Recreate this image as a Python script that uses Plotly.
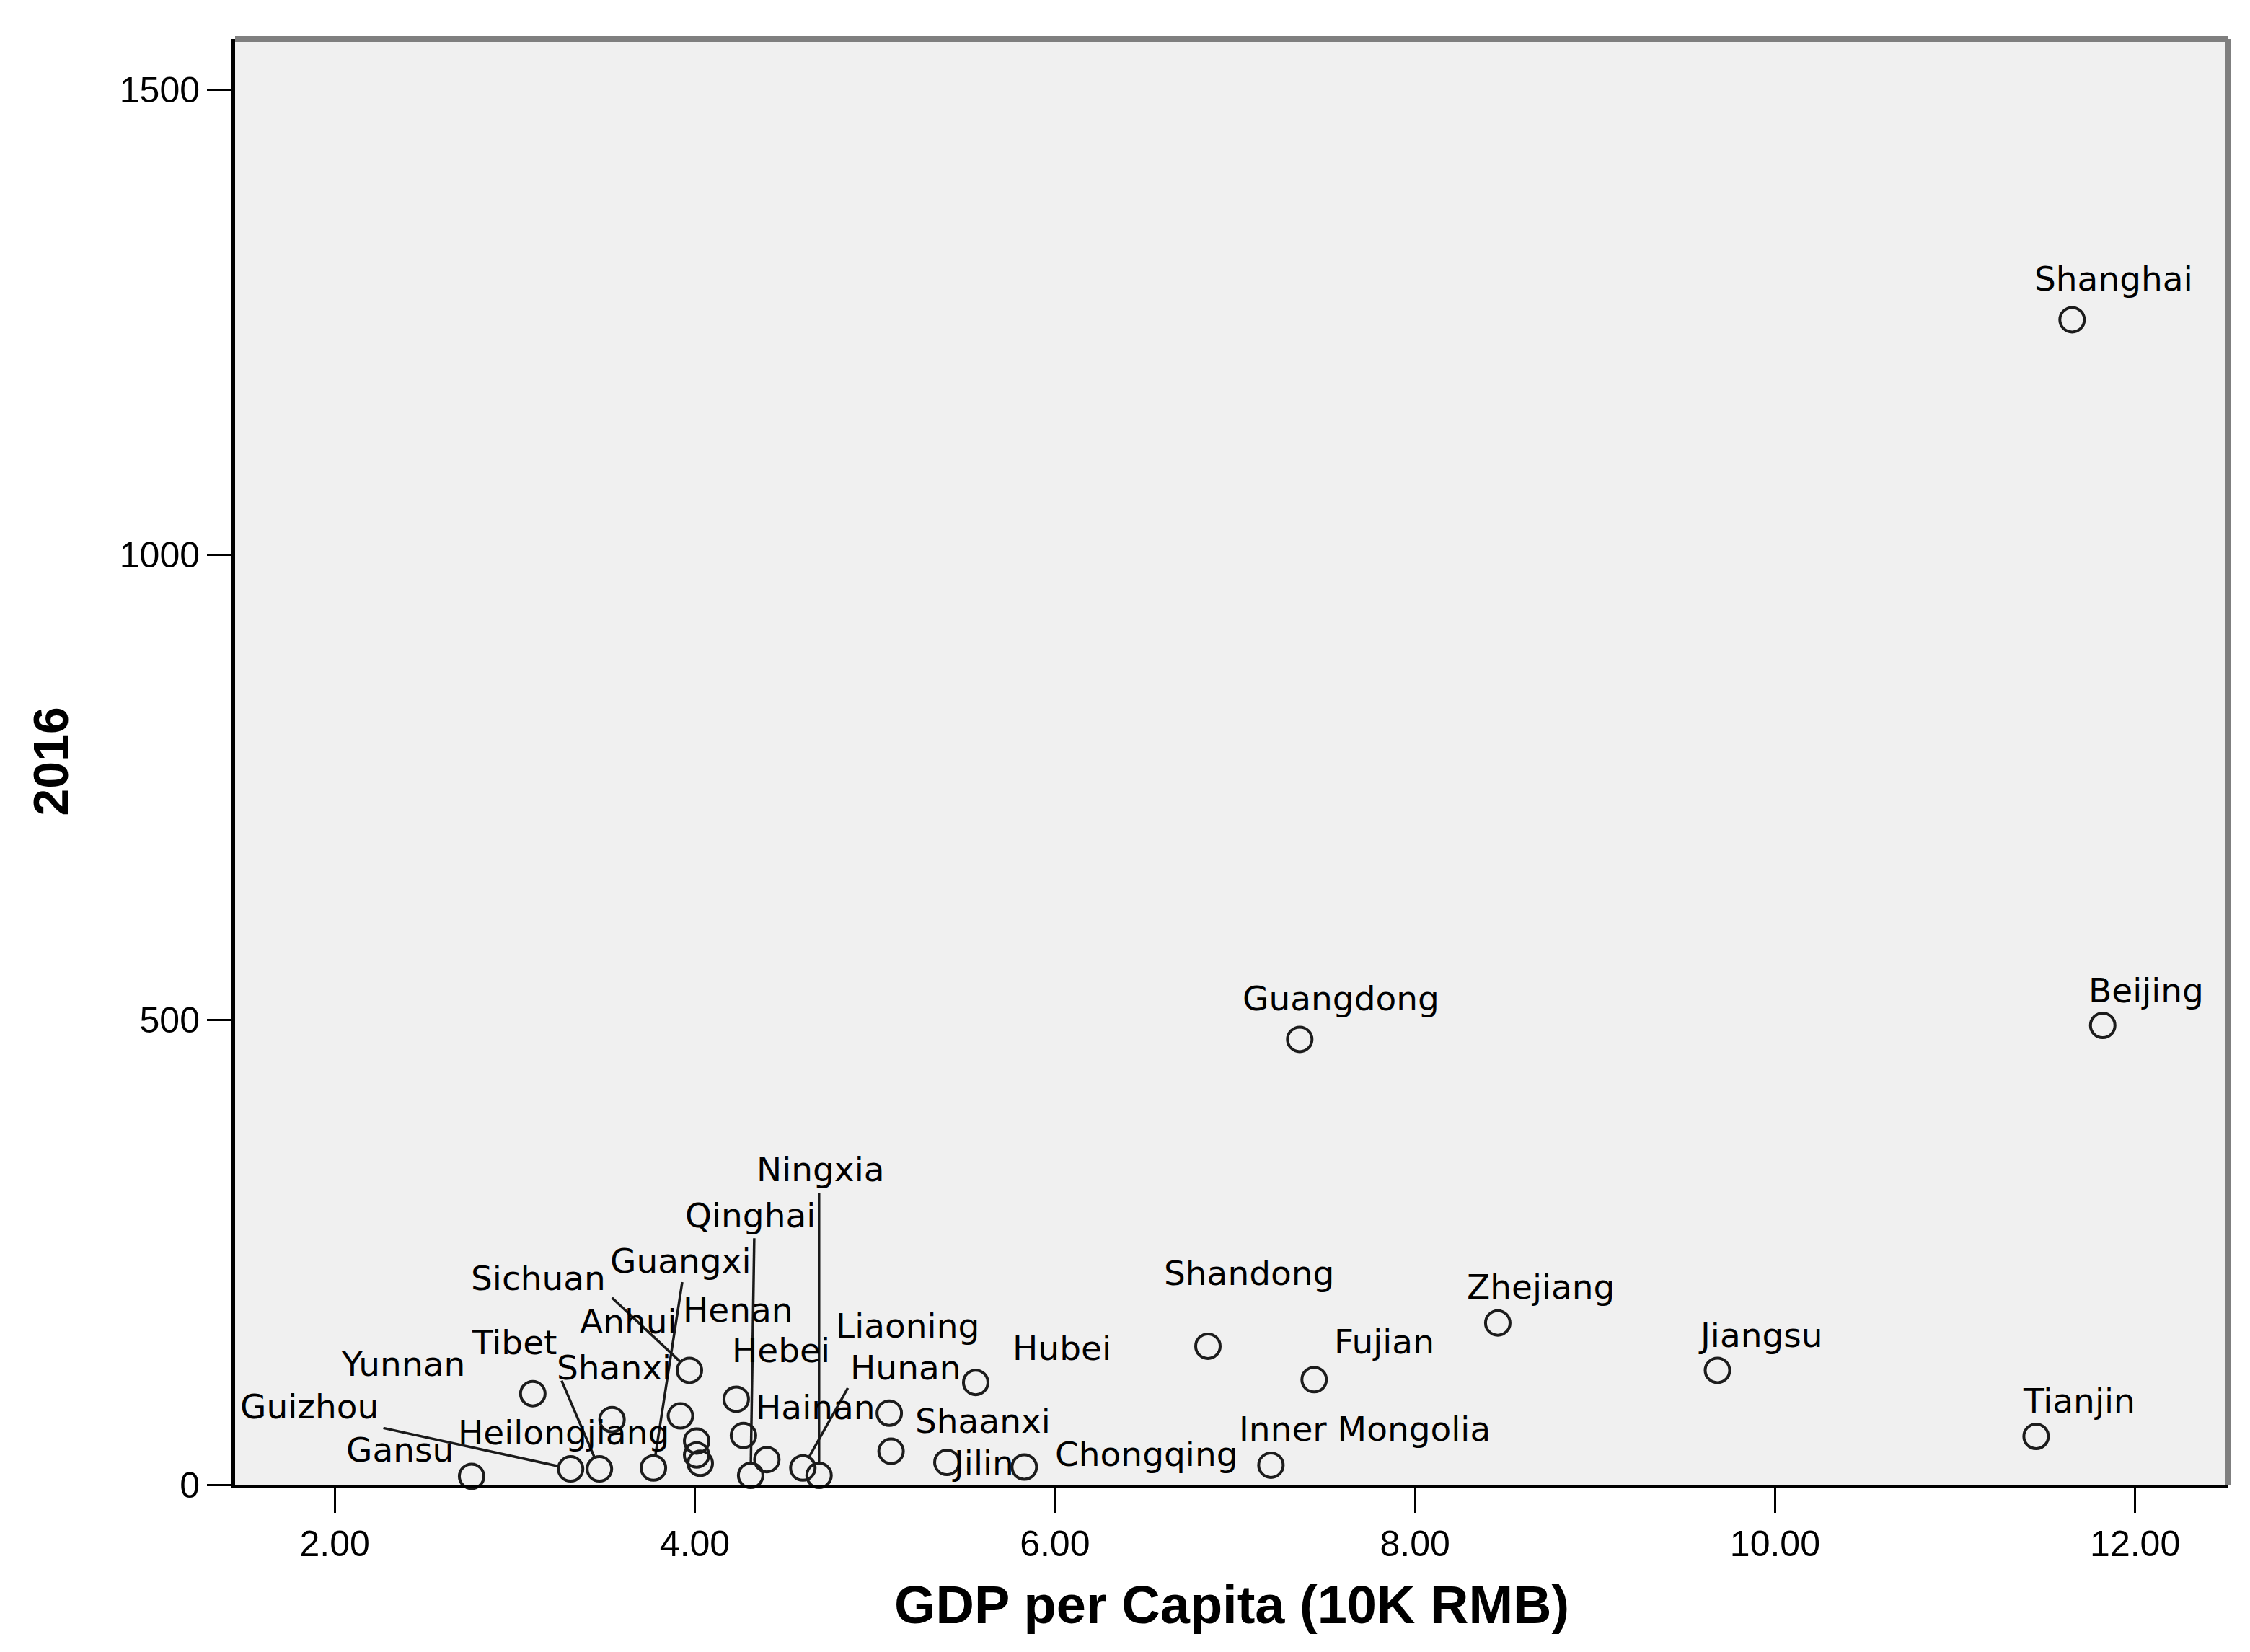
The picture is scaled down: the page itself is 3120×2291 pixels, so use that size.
import math
import plotly.graph_objects as go

# data
provinces = ["Beijing", "Tianjin", "Hebei", "Shanxi", "Inner Mongolia", "Liaoning", "Jilin",
             "Heilongjiang", "Shanghai", "Jiangsu", "Zhejiang", "Anhui", "Fujian", "Jiangxi",
             "Shandong", "Henan", "Hubei", "Hunan", "Guangdong", "Guangxi", "Hainan",
             "Chongqing", "Sichuan", "Guizhou", "Yunnan", "Tibet", "Shaanxi", "Gansu",
             "Qinghai", "Ningxia", "Xinjiang"]
gdp_per_capita = [11.82, 11.45, 4.23, 3.47, 7.20, 5.08, 5.40,
                  4.01, 11.65, 9.68, 8.46, 3.92, 7.44, 4.01,
                  6.85, 4.27, 5.56, 4.60, 7.36, 3.77, 4.40,
                  5.83, 3.97, 3.31, 3.10, 3.54, 5.09, 2.76,
                  4.31, 4.69, 4.03]
value_2016 = [494, 52, 92, 17, 21, 77, 24,
              47, 1253, 123, 174, 74, 113, 32,
              149, 53, 110, 18, 479, 18, 27,
              19, 123, 17, 98, 70, 36, 9,
              10, 10, 23]

x_ticks = [2, 4, 6, 8, 10, 12]
y_ticks = [0, 500, 1000, 1500]

# label placement (text centre, data units)
label_pos = {
    "Shanghai": (11.88, 1297), "Beijing": (12.06, 532), "Guangdong": (7.59, 523),
    "Tianjin": (11.69, 90), "Jiangsu": (9.92, 161), "Zhejiang": (8.70, 213),
    "Fujian": (7.83, 154), "Shandong": (7.08, 228), "Inner Mongolia": (7.72, 60),
    "Chongqing": (6.51, 33), "Jilin": (5.60, 24), "Hubei": (6.04, 147),
    "Shaanxi": (5.60, 69), "Liaoning": (5.18, 171), "Hunan": (5.17, 126),
    "Ningxia": (4.70, 339), "Qinghai": (4.31, 290), "Guangxi": (3.92, 241),
    "Sichuan": (3.13, 222), "Anhui": (3.63, 176), "Henan": (4.24, 188),
    "Hebei": (4.48, 145), "Hainan": (4.67, 83), "Tibet": (3.00, 153),
    "Shanxi": (3.55, 126), "Yunnan": (2.38, 130), "Guizhou": (1.86, 84),
    "Gansu": (2.36, 38), "Heilongjiang": (3.27, 56),
}
# start of leader lines (data units); they run to the province's point
leader_start = {
    "Ningxia": (4.69, 314), "Qinghai": (4.33, 265), "Guangxi": (3.93, 218),
    "Sichuan": (3.54, 201), "Hunan": (4.85, 104), "Shanxi": (3.26, 112),
    "Guizhou": (2.27, 61),
}

X_RANGE = [1.4464, 12.518]
Y_RANGE = [0, 1555]
W, H = 3120, 2291
M = dict(l=318, r=38, t=46, b=240)
px_x = (W - M["l"] - M["r"]) / (X_RANGE[1] - X_RANGE[0])
px_y = (H - M["t"] - M["b"]) / (Y_RANGE[1] - Y_RANGE[0])
R = 18  # marker radius in px, leader lines stop at the circle

fig = go.Figure()
fig.add_trace(go.Scatter(
    x=gdp_per_capita, y=value_2016, mode="markers", text=provinces,
    marker=dict(symbol="circle-open", size=34, color="#1c1c1c", line=dict(width=4)),
    cliponaxis=False, showlegend=False,
))

shapes = []
for name, (sx, sy) in leader_start.items():
    i = provinces.index(name)
    px, py = gdp_per_capita[i], value_2016[i]
    dx, dy = (px - sx) * px_x, (py - sy) * px_y
    L = math.hypot(dx, dy)
    ex = px - dx / L * R / px_x
    ey = py - dy / L * R / px_y
    shapes.append(dict(type="line", xref="x", yref="y", x0=sx, y0=sy, x1=ex, y1=ey,
                       line=dict(color="#1a1a1a", width=3.5)))

# grey top / right frame
shapes.append(dict(type="line", xref="paper", yref="paper", x0=0, x1=1, y0=1, y1=1,
                   line=dict(color="#7f7f7f", width=8)))
shapes.append(dict(type="line", xref="paper", yref="paper", x0=1, x1=1, y0=0, y1=1,
                   line=dict(color="#7f7f7f", width=8)))

annotations = []
for name, (lx, ly) in label_pos.items():
    annotations.append(dict(x=lx, y=ly, xref="x", yref="y", text=name, showarrow=False,
                            xanchor="center", yanchor="middle",
                            font=dict(family="DejaVu Sans", size=47, color="#000")))

annotations.append(dict(x=0.5, y=0, xref="paper", yref="paper", yshift=-166,
                        text="<b>GDP per Capita (10K RMB)</b>", showarrow=False,
                        xanchor="center", yanchor="middle",
                        font=dict(family="Liberation Sans, Arial", size=74, color="#000")))
annotations.append(dict(x=0, y=0.5, xref="paper", yref="paper", xshift=-257,
                        text="<b>2016</b>", showarrow=False, textangle=-90,
                        xanchor="center", yanchor="middle",
                        font=dict(family="Liberation Sans, Arial", size=68, color="#000")))

tick_font = dict(family="Liberation Sans, Arial", size=50, color="#000")
fig.update_layout(
    width=W, height=H, margin=M,
    paper_bgcolor="white", plot_bgcolor="#f0f0f0",
    shapes=shapes, annotations=annotations,
    xaxis=dict(range=X_RANGE, tickvals=x_ticks, tickformat=".2f", showgrid=False,
               zeroline=False, showline=True, linecolor="black", linewidth=5,
               ticks="outside", ticklen=34, tickwidth=3, tickcolor="black",
               tickfont=tick_font),
    yaxis=dict(range=Y_RANGE, tickvals=y_ticks, showgrid=False, zeroline=False,
               showline=True, linecolor="black", linewidth=5,
               ticks="outside", ticklen=34, tickwidth=3, tickcolor="black",
               tickfont=tick_font),
)

fig.write_html("out.html")
